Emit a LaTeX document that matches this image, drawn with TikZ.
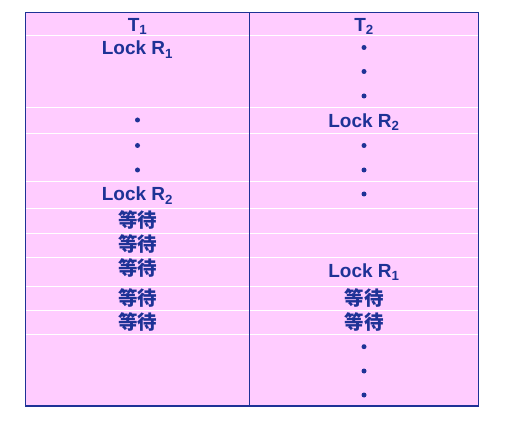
\documentclass[tikz,border=0pt]{standalone}
\usepackage{fontspec}
\setmainfont{Liberation Sans}
\newfontfamily\cjk{Noto Sans CJK SC}
\usepackage{tikz}
\usetikzlibrary{positioning}
\usepackage{xcolor}
\definecolor{tblue}{RGB}{30,50,150}
\definecolor{tpink}{RGB}{255,204,255}

\begin{document}
\begin{tikzpicture}[x=1pt, y=-1pt,
  txt/.style={text=tblue, font=\fontsize{19}{19}\selectfont\bfseries, anchor=base, inner sep=0pt},
  wait/.style={text=tblue, font=\fontsize{19.5}{19.5}\selectfont\cjk\bfseries, anchor=center, inner sep=0pt},
  dot/.style={circle, fill=tblue, inner sep=0pt, minimum size=5pt},
  rowline/.style={white, line width=1pt}]

\useasboundingbox (0,0) rectangle (506,422);

% Table background
\fill[tpink] (25.5,12.5) rectangle (478.5,406);

% Row separators
\draw[rowline] (25.5,36) -- (478.5,36);
\draw[rowline] (25.5,108) -- (478.5,108);
\draw[rowline] (25.5,134) -- (478.5,134);
\draw[rowline] (25.5,182) -- (478.5,182);
\draw[rowline] (25.5,209) -- (478.5,209);
\draw[rowline] (25.5,233.5) -- (478.5,233.5);
\draw[rowline] (25.5,257.5) -- (478.5,257.5);
\draw[rowline] (25.5,286) -- (478.5,286);
\draw[rowline] (25.5,310.5) -- (478.5,310.5);
\draw[rowline] (25.5,334.5) -- (478.5,334.5);

% Column divider and border
\draw[tblue, line width=1.2pt] (249.5,12.5) -- (249.5,406);
\draw[tblue, line width=1.2pt] (25.5,12.5) rectangle (478.5,406);

% Header
\node[txt] (t1) at (137.5,31.5) {T\textsubscript{1}};
\node[txt] (t2) at (364,31.5) {T\textsubscript{2}};

% Transaction T1
\node[txt] (lockA) at (137.5,55) {Lock R\textsubscript{1}};
\node[dot] (a1) at (137.5,120) {};
\node[dot] (a2) at (137.5,145.5) {};
\node[dot] (a3) at (137.5,170) {};
\node[txt] (lockB) at (137.5,201) {Lock R\textsubscript{2}};
\node[wait] (w1) at (137.5,220) {等待};
\node[wait] (w2) at (137.5,244) {等待};
\node[wait] (w3) at (137.5,268.5) {等待};
\node[wait] (w4) at (137.5,298) {等待};
\node[wait] (w5) at (137.5,322) {等待};

% Transaction T2
\node[dot] (b1) at (364,47.5) {};
\node[dot] (b2) at (364,71.5) {};
\node[dot] (b3) at (364,96) {};
\node[txt] (lockC) at (364,127.3) {Lock R\textsubscript{2}};
\node[dot] (b4) at (364,145.5) {};
\node[dot] (b5) at (364,170) {};
\node[dot] (b6) at (364,194) {};
\node[txt] (lockD) at (364,277.3) {Lock R\textsubscript{1}};
\node[wait] (v1) at (364,298) {等待};
\node[wait] (v2) at (364,322) {等待};
\node[dot] (b7) at (364,346.7) {};
\node[dot] (b8) at (364,371) {};
\node[dot] (b9) at (364,395) {};

\end{tikzpicture}
\end{document}
